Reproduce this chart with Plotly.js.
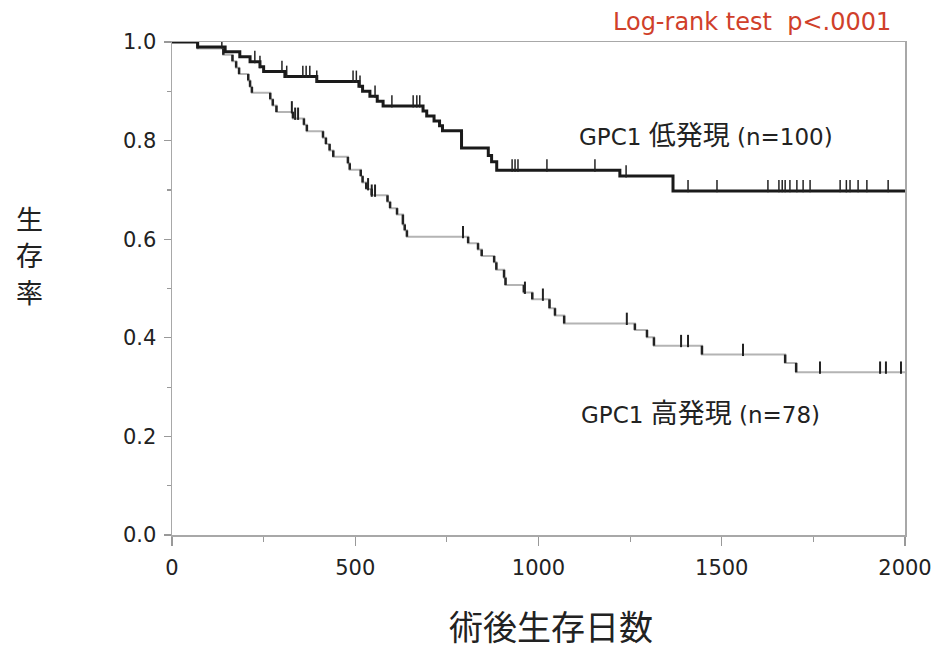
<!DOCTYPE html>
<html>
<head>
<meta charset="utf-8">
<script src="https://cdn.plot.ly/plotly-3.0.1.min.js"></script>
<style>html,body{margin:0;padding:0;background:#fff;}#chart{width:932px;height:649px;}</style>
</head>
<body>
<div id="chart"></div>
<script>
// Low GPC1 expression group (n=100): step times (days) and survival after each step
const lowTimes = [0, 70, 145, 185, 213, 240, 250, 308, 395, 510, 520, 540, 560, 576, 685, 695, 715, 730, 738, 790, 863, 872, 886, 1222, 1367, 2000];
const lowSurv  = [1.0, 0.99, 0.98, 0.97, 0.96, 0.95, 0.94, 0.93, 0.92, 0.91, 0.90, 0.89, 0.88, 0.87, 0.86, 0.85, 0.84, 0.83, 0.82, 0.785, 0.77, 0.757, 0.74, 0.728, 0.698, 0.698];
const lowCensor = [136, 226, 240, 300, 313, 357, 366, 376, 395, 494, 503, 513, 554, 600, 658, 668, 676, 928, 936, 944, 1023, 1154, 1239, 1408, 1487, 1626, 1656, 1665, 1673, 1686, 1705, 1722, 1741, 1823, 1840, 1850, 1872, 1896, 1954];

// High GPC1 expression group (n=78)
const highTimes = [0, 70, 140, 165, 175, 183, 208, 213, 218, 268, 275, 285, 330, 360, 368, 412, 420, 430, 440, 480, 485, 515, 520, 530, 545, 588, 595, 614, 630, 635, 641, 808, 835, 845, 879, 885, 906, 910, 960, 983, 1030, 1045, 1070, 1263, 1296, 1315, 1446, 1673, 1703, 2000];
const highSurv  = [1.0, 0.987, 0.974, 0.961, 0.948, 0.935, 0.922, 0.909, 0.897, 0.884, 0.871, 0.858, 0.845, 0.832, 0.819, 0.806, 0.793, 0.780, 0.767, 0.754, 0.741, 0.728, 0.715, 0.702, 0.689, 0.676, 0.663, 0.650, 0.630, 0.618, 0.605, 0.592, 0.579, 0.566, 0.553, 0.538, 0.522, 0.507, 0.492, 0.478, 0.460, 0.445, 0.429, 0.416, 0.401, 0.384, 0.366, 0.349, 0.330, 0.330];
const highCensor = [327, 336, 344, 535, 545, 554, 794, 963, 1012, 1241, 1389, 1408, 1558, 1768, 1932, 1948, 1989];

const xTickVals = [0, 500, 1000, 1500, 2000];
const yTickVals = [0.0, 0.2, 0.4, 0.6, 0.8, 1.0];
const yTickText = ['0.0', '0.2', '0.4', '0.6', '0.8', '1.0'];

const lowLabel = 'GPC1 <span style="font-size:27px">低発現</span> (n=100)';
const highLabel = 'GPC1 <span style="font-size:27px">高発現</span> (n=78)';
const pText = 'Log-rank test  p&lt;.0001';
const xTitle = '術後生存日数';
const yTitleChars = ['生', '存', '率'];

function survAt(times, surv, t) {
  let s = surv[0];
  for (let i = 0; i < times.length; i++) { if (times[i] <= t) s = surv[i]; }
  return s;
}
function drops(times, surv) {
  const x = [], y = [];
  for (let i = 1; i < times.length; i++) {
    if (surv[i] !== surv[i - 1]) { x.push(times[i], times[i], null); y.push(surv[i - 1], surv[i], null); }
  }
  return {x, y};
}
function censorTrace(times, surv, cens, color, w) {
  return {
    x: cens, y: cens.map(t => survAt(times, surv, t)), mode: 'markers', type: 'scatter',
    marker: {size: 1, color: color}, hoverinfo: 'skip', showlegend: false,
    error_y: {type: 'data', symmetric: false, array: cens.map(() => 0.022), arrayminus: cens.map(() => 0.003), width: 0, thickness: w, color: color}
  };
}

const hd = drops(highTimes, highSurv);
const traces = [
  {x: highTimes, y: highSurv, mode: 'lines', type: 'scatter', line: {shape: 'hv', color: '#b4b4b4', width: 2}, showlegend: false},
  {x: hd.x, y: hd.y, mode: 'lines', type: 'scatter', line: {color: '#222', width: 2.5}, showlegend: false, connectgaps: false},
  censorTrace(highTimes, highSurv, highCensor, '#222', 2),
  {x: lowTimes, y: lowSurv, mode: 'lines', type: 'scatter', line: {shape: 'hv', color: '#1a1a1a', width: 3}, showlegend: false},
  censorTrace(lowTimes, lowSurv, lowCensor, '#222', 1.5)
];

const annotations = [
  {xref: 'x', yref: 'y', x: 1106, y: 0.811, xanchor: 'left', yanchor: 'middle', text: lowLabel, showarrow: false, font: {family: 'DejaVu Sans, Noto Sans CJK JP', size: 23, color: '#222'}},
  {xref: 'x', yref: 'y', x: 1111, y: 0.247, xanchor: 'left', yanchor: 'middle', text: highLabel, showarrow: false, font: {family: 'DejaVu Sans, Noto Sans CJK JP', size: 23, color: '#222'}},
  {xref: 'paper', yref: 'paper', x: 0.9836, y: 1.0406, xanchor: 'right', yanchor: 'middle', text: pText, showarrow: false, font: {family: 'DejaVu Sans', size: 24, color: '#d0402a'}},
  {xref: 'paper', yref: 'paper', x: 0.517, y: -0.1826, xanchor: 'center', yanchor: 'middle', text: xTitle, showarrow: false, font: {family: 'Noto Sans CJK JP', size: 34, color: '#222'}}
];
const yCharPos = [0.642, 0.568, 0.494];
yTitleChars.forEach((c, i) => annotations.push({xref: 'paper', yref: 'paper', x: -0.194, y: yCharPos[i], xanchor: 'center', yanchor: 'middle', text: c, showarrow: false, font: {family: 'Noto Sans CJK JP', size: 27, color: '#222'}}));

const layout = {
  width: 932, height: 649,
  margin: {l: 172, r: 27, t: 42, b: 114},
  paper_bgcolor: '#fff', plot_bgcolor: '#fff',
  showlegend: false,
  xaxis: {
    range: [0, 2000], tickvals: xTickVals, ticktext: xTickVals.map(String),
    showline: true, mirror: true, linecolor: '#a8a8a8', linewidth: 1.5,
    ticks: 'outside', ticklen: 9, tickcolor: '#999', tickwidth: 1.2,
    minor: {dtick: 250, tick0: 0, ticks: 'outside', ticklen: 5, tickcolor: '#999', showgrid: false},
    showgrid: false, zeroline: false, ticklabelstandoff: 4,
    tickfont: {family: 'DejaVu Sans', size: 21, color: '#222'}
  },
  yaxis: {
    range: [0, 1.0], tickvals: yTickVals, ticktext: yTickText,
    showline: true, mirror: true, linecolor: '#a8a8a8', linewidth: 1.5,
    ticks: 'outside', ticklen: 7, tickcolor: '#999', tickwidth: 1.2,
    minor: {dtick: 0.1, tick0: 0, ticks: 'outside', ticklen: 4, tickcolor: '#999', showgrid: false},
    showgrid: false, zeroline: false, ticklabelstandoff: 3,
    tickfont: {family: 'DejaVu Sans', size: 21, color: '#222'}
  },
  annotations: annotations
};

Plotly.newPlot('chart', traces, layout, {displayModeBar: false, staticPlot: true});
</script>
</body>
</html>
